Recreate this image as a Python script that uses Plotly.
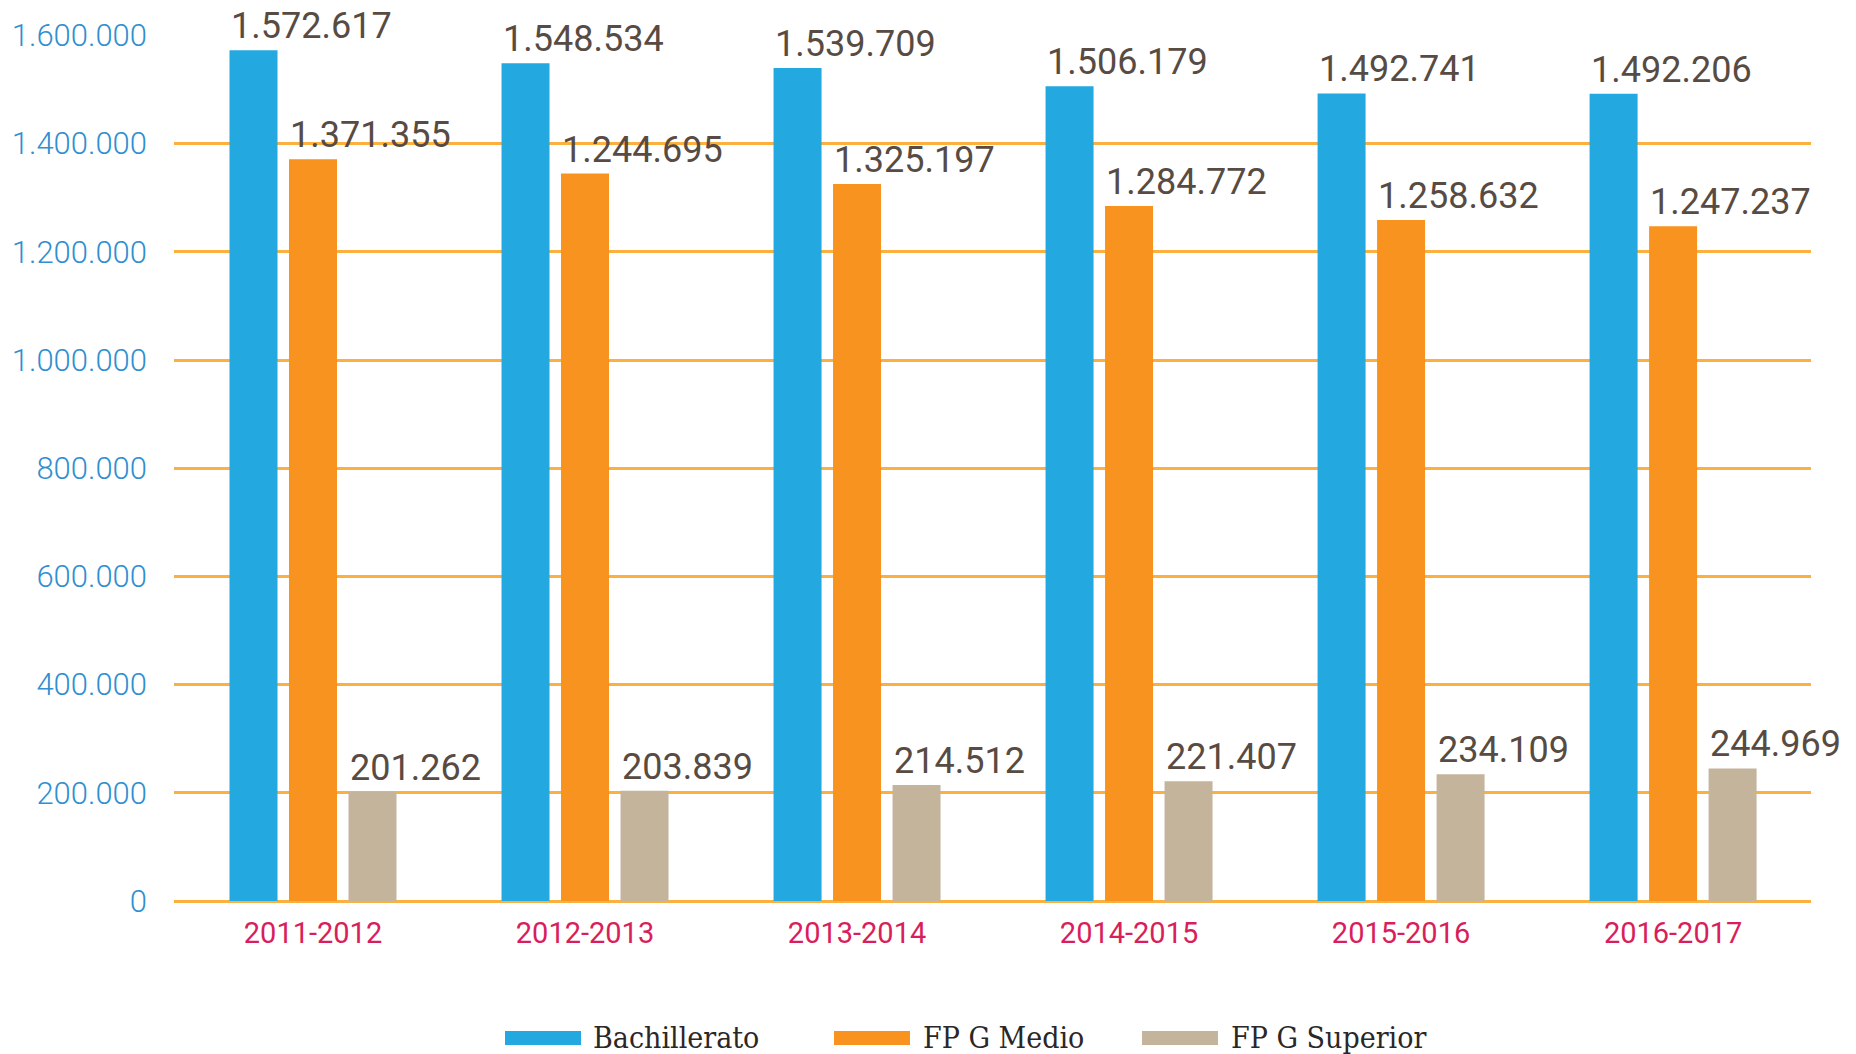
import plotly.graph_objects as go

# ---------------- data ----------------
categories = ["2011-2012", "2012-2013", "2013-2014", "2014-2015", "2015-2016", "2016-2017"]
series_names = ["Bachillerato", "FP G Medio", "FP G Superior"]
bachillerato = [1572617, 1548534, 1539709, 1506179, 1492741, 1492206]
fp_medio = [1371355, 1344695, 1325197, 1284772, 1258632, 1247237]
fp_superior = [201262, 203839, 214512, 221407, 234109, 244969]
# labels as printed in the chart
bachillerato_labels = ["1.572.617", "1.548.534", "1.539.709", "1.506.179", "1.492.741", "1.492.206"]
fp_medio_labels = ["1.371.355", "1.244.695", "1.325.197", "1.284.772", "1.258.632", "1.247.237"]
fp_superior_labels = ["201.262", "203.839", "214.512", "221.407", "234.109", "244.969"]
y_tickvals = [0, 200000, 400000, 600000, 800000, 1000000, 1200000, 1400000, 1600000]
y_ticktext = ["0", "200.000", "400.000", "600.000", "800.000", "1.000.000", "1.200.000", "1.400.000", "1.600.000"]

colors = ["#24a8e0", "#f7931e", "#c4b49b"]
grid_color = "#fbb040"

# ---------------- layout constants (pixels) ----------------
W, H = 1856, 1054
L, R, T, B = 174, 45, 35, 153
plot_w = W - L - R
plot_h = H - T - B
X_RANGE = [-0.511, 5.507]
px_per_cat = plot_w / (X_RANGE[1] - X_RANGE[0])
BAR_W = 48 / px_per_cat
SLOT = 59.5 / px_per_cat
offsets = [-BAR_W / 2 - SLOT, -BAR_W / 2, -BAR_W / 2 + SLOT]

values = [bachillerato, fp_medio, fp_superior]
labels = [bachillerato_labels, fp_medio_labels, fp_superior_labels]
xs = list(range(len(categories)))

fig = go.Figure()
for k in range(3):
    fig.add_trace(go.Bar(
        x=xs, y=values[k], name=series_names[k],
        width=BAR_W, offset=offsets[k],
        marker=dict(color=colors[k], line=dict(width=0)),
        showlegend=False, hoverinfo="x+y",
    ))

annotations = []
for k in range(3):
    for i, (v, t) in enumerate(zip(values[k], labels[k])):
        annotations.append(dict(
            x=xs[i] + offsets[k], y=v, xref="x", yref="y",
            text=t, showarrow=False, xanchor="left", yanchor="bottom",
            xshift=-1, yshift=1,
            font=dict(family="Roboto", size=36, color="#574b43"),
        ))

# custom legend
def px_to_paper_x(px):
    return (px - L) / plot_w

def px_to_paper_y(py):
    return (H - B - py) / plot_h

legend_swatch_x = [(505, 581), (834, 910), (1142, 1218)]
legend_text_x = [591, 921, 1229]
legend_y0, legend_y1 = 1031, 1045
legend_yc = 1037
shapes = []
for k in range(3):
    x0, x1 = legend_swatch_x[k]
    shapes.append(dict(
        type="rect", xref="paper", yref="paper",
        x0=px_to_paper_x(x0), x1=px_to_paper_x(x1),
        y0=px_to_paper_y(legend_y1), y1=px_to_paper_y(legend_y0),
        fillcolor=colors[k], line=dict(width=0),
    ))
    annotations.append(dict(
        x=px_to_paper_x(legend_text_x[k]), y=px_to_paper_y(legend_yc),
        xref="paper", yref="paper", text=series_names[k], showarrow=False,
        xanchor="left", yanchor="middle",
        font=dict(family="DejaVu Serif Condensed, DejaVu Serif", size=30, color="#2b2726"),
    ))

fig.update_layout(
    width=W, height=H,
    margin=dict(l=L, r=R, t=T, b=B),
    paper_bgcolor="white", plot_bgcolor="white",
    barmode="overlay",
    annotations=annotations, shapes=shapes,
    xaxis=dict(
        range=X_RANGE, tickmode="array", tickvals=xs, ticktext=categories,
        showgrid=False, zeroline=False, showline=False, ticks="",
        ticklabelstandoff=12,
        tickfont=dict(family="Roboto", size=29, color="#d81e5b"),
    ),
    yaxis=dict(
        range=[0, 1600800], tickmode="array", tickvals=y_tickvals, ticktext=y_ticktext,
        showgrid=True, gridcolor=grid_color, gridwidth=3,
        zeroline=True, zerolinecolor=grid_color, zerolinewidth=3,
        showline=False, ticks="", ticklabelstandoff=26,
        tickfont=dict(family="Roboto", size=31, color="#2f8fd0", weight=300),
    ),
)

fig.write_html(
    "out.html",
    config={"displayModeBar": False},
    post_script="document.body.style.margin='0';document.body.style.overflow='hidden';",
)
